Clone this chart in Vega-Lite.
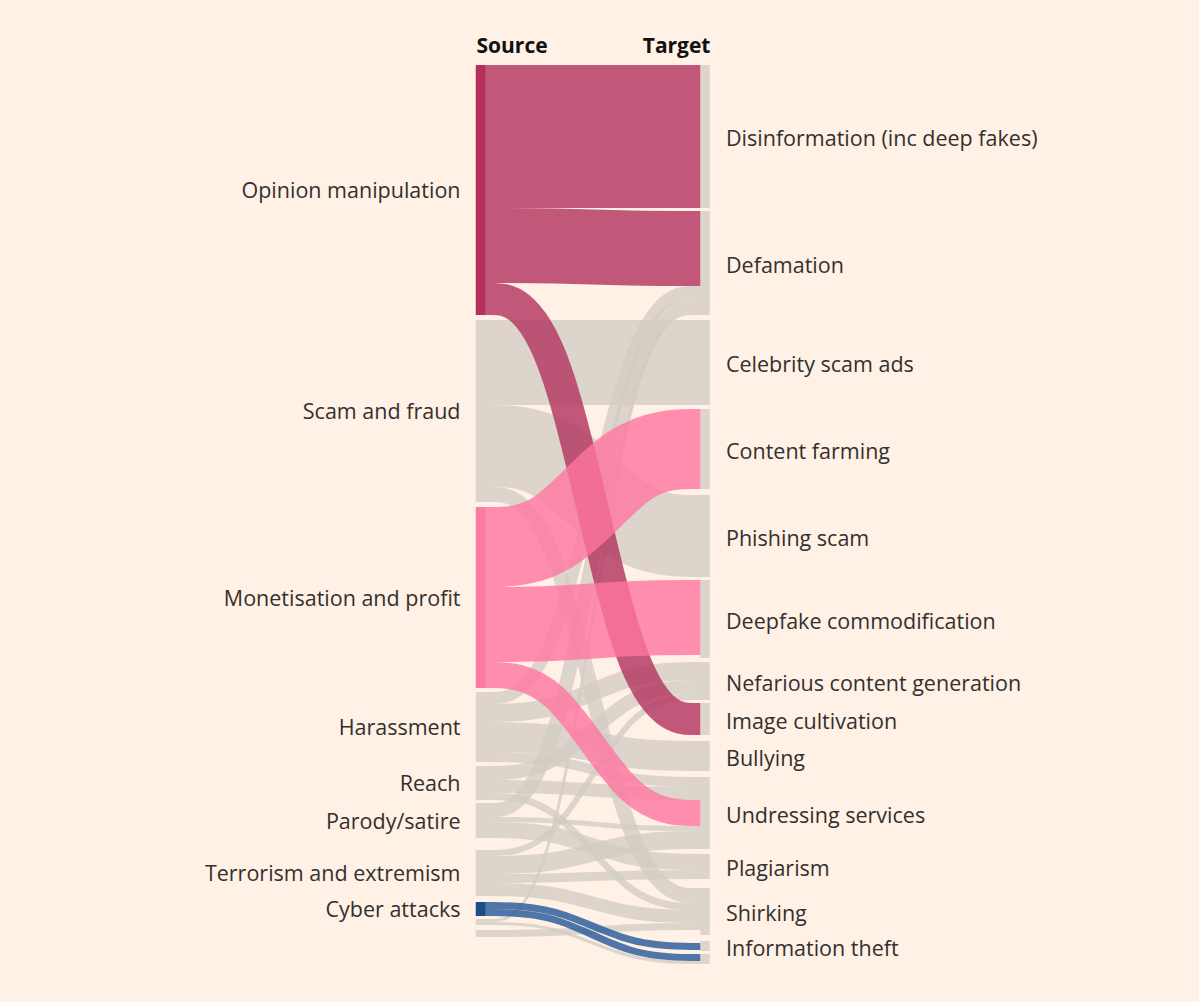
{
  "$schema": "https://vega.github.io/schema/vega-lite/v6.json",
  "autosize": {"type": "none"},
  "width": 224.5,
  "height": 920,
  "padding": {"left": 480.5, "top": 60, "right": 494, "bottom": 22},
  "background": "#fff1e5",
  "config": {"view": {"stroke": null}, "font": "Open Sans"},
  "datasets": {
    "links": [
      {"source": "Opinion manipulation", "target": "Disinformation (inc deep fakes)", "value": 143, "step": [0,1,2,3], "y": [71.5,71.5,71.5,71.5]},
      {"source": "Opinion manipulation", "target": "Defamation", "value": 75, "step": [0,1,2,3], "y": [180.5,180.5,183.5,183.5]},
      {"source": "Opinion manipulation", "target": "Image cultivation", "value": 32, "step": [0,1,2,3], "y": [234,234,654,654]},
      {"source": "Scam and fraud", "target": "Celebrity scam ads", "value": 85, "step": [0,1,2,3], "y": [297.5,297.5,297.5,297.5]},
      {"source": "Scam and fraud", "target": "Phishing scam", "value": 82, "step": [0,1,2,3], "y": [381,381,471,471]},
      {"source": "Scam and fraud", "target": "Shirking", "value": 15, "step": [0,1,2,3], "y": [429.5,429.5,830.5,830.5]},
      {"source": "Monetisation and profit", "target": "Content farming", "value": 80, "step": [0,1,2,3], "y": [482,482,384,384]},
      {"source": "Monetisation and profit", "target": "Deepfake commodification", "value": 75, "step": [0,1,2,3], "y": [559.5,559.5,552.5,552.5]},
      {"source": "Monetisation and profit", "target": "Undressing services", "value": 26, "step": [0,1,2,3], "y": [610,610,748,748]},
      {"source": "Harassment", "target": "Defamation", "value": 12, "step": [0,1,2,3], "y": [633,633,227,227]},
      {"source": "Harassment", "target": "Nefarious content generation", "value": 18, "step": [0,1,2,3], "y": [648,648,606,606]},
      {"source": "Harassment", "target": "Bullying", "value": 30, "step": [0,1,2,3], "y": [672,672,691,691]},
      {"source": "Harassment", "target": "Undressing services", "value": 10, "step": [0,1,2,3], "y": [692,692,717,717]},
      {"source": "Reach", "target": "Nefarious content generation", "value": 14, "step": [0,1,2,3], "y": [708,708,622,622]},
      {"source": "Reach", "target": "Undressing services", "value": 13, "step": [0,1,2,3], "y": [721.5,721.5,728.5,728.5]},
      {"source": "Reach", "target": "Shirking", "value": 7, "step": [0,1,2,3], "y": [731.5,731.5,841.5,841.5]},
      {"source": "Parody/satire", "target": "Defamation", "value": 14, "step": [0,1,2,3], "y": [745,745,240,240]},
      {"source": "Parody/satire", "target": "Undressing services", "value": 5, "step": [0,1,2,3], "y": [754.5,754.5,763.5,763.5]},
      {"source": "Parody/satire", "target": "Plagiarism", "value": 16, "step": [0,1,2,3], "y": [765,765,797,797]},
      {"source": "Terrorism and extremism", "target": "Nefarious content generation", "value": 6, "step": [0,1,2,3], "y": [788,788,632,632]},
      {"source": "Terrorism and extremism", "target": "Undressing services", "value": 18, "step": [0,1,2,3], "y": [800,800,775,775]},
      {"source": "Terrorism and extremism", "target": "Plagiarism", "value": 9, "step": [0,1,2,3], "y": [813.5,813.5,809.5,809.5]},
      {"source": "Terrorism and extremism", "target": "Shirking", "value": 13, "step": [0,1,2,3], "y": [824.5,824.5,851.5,851.5]},
      {"source": "Cyber attacks", "target": "Information theft", "value": 7, "step": [0,1,2,3], "y": [840.5,840.5,881.5,881.5]},
      {"source": "Cyber attacks", "target": "minor target", "value": 7, "step": [0,1,2,3], "y": [847.5,847.5,892.5,892.5]},
      {"source": "minor source 1", "target": "Defamation", "value": 3, "step": [0,1,2,3], "y": [855.5,855.5,248.5,248.5]},
      {"source": "minor source 1", "target": "minor target", "value": 3, "step": [0,1,2,3], "y": [858.5,858.5,897.5,897.5]},
      {"source": "minor source 2", "target": "Shirking", "value": 7, "step": [0,1,2,3], "y": [868.5,868.5,861.5,861.5]}
    ],
    "nodes": [
      {"name": "Opinion manipulation", "label": "Opinion manipulation", "stage": 0, "y0": 0, "y1": 250},
      {"name": "Scam and fraud", "label": "Scam and fraud", "stage": 0, "y0": 255, "y1": 437},
      {"name": "Monetisation and profit", "label": "Monetisation and profit", "stage": 0, "y0": 442, "y1": 623},
      {"name": "Harassment", "label": "Harassment", "stage": 0, "y0": 627, "y1": 697},
      {"name": "Reach", "label": "Reach", "stage": 0, "y0": 701, "y1": 735},
      {"name": "Parody/satire", "label": "Parody/satire", "stage": 0, "y0": 738, "y1": 773},
      {"name": "Terrorism and extremism", "label": "Terrorism and extremism", "stage": 0, "y0": 785, "y1": 831},
      {"name": "Cyber attacks", "label": "Cyber attacks", "stage": 0, "y0": 837, "y1": 851},
      {"name": "minor source 1", "label": "", "stage": 0, "y0": 854, "y1": 860},
      {"name": "minor source 2", "label": "", "stage": 0, "y0": 865, "y1": 872},
      {"name": "Disinformation (inc deep fakes)", "label": "Disinformation (inc deep fakes)", "stage": 3, "y0": 0, "y1": 143},
      {"name": "Defamation", "label": "Defamation", "stage": 3, "y0": 146, "y1": 250},
      {"name": "Celebrity scam ads", "label": "Celebrity scam ads", "stage": 3, "y0": 255, "y1": 340},
      {"name": "Content farming", "label": "Content farming", "stage": 3, "y0": 344, "y1": 424},
      {"name": "Phishing scam", "label": "Phishing scam", "stage": 3, "y0": 430, "y1": 512},
      {"name": "Deepfake commodification", "label": "Deepfake commodification", "stage": 3, "y0": 515, "y1": 593},
      {"name": "Nefarious content generation", "label": "Nefarious content generation", "stage": 3, "y0": 597, "y1": 635},
      {"name": "Image cultivation", "label": "Image cultivation", "stage": 3, "y0": 638, "y1": 670},
      {"name": "Bullying", "label": "Bullying", "stage": 3, "y0": 676, "y1": 706},
      {"name": "Undressing services", "label": "Undressing services", "stage": 3, "y0": 712, "y1": 784},
      {"name": "Plagiarism", "label": "Plagiarism", "stage": 3, "y0": 789, "y1": 814},
      {"name": "Shirking", "label": "Shirking", "stage": 3, "y0": 823, "y1": 870},
      {"name": "Information theft", "label": "Information theft", "stage": 3, "y0": 876, "y1": 886},
      {"name": "minor target", "label": "", "stage": 3, "y0": 889, "y1": 899}
    ]
  },
  "layer": [
    {
      "data": {"name": "links"},
      "transform": [
        {"flatten": ["step", "y"]},
        {"filter": "datum.source != 'Opinion manipulation' && datum.source != 'Monetisation and profit' && datum.source != 'Cyber attacks'"}
      ],
      "mark": {"type": "line", "interpolate": "basis", "strokeCap": "butt", "color": "#d2cbc3", "opacity": 0.75},
      "encoding": {
        "x": {"field": "step", "type": "quantitative", "scale": {"domain": [0, 3], "nice": false, "zero": false},
              "axis": {"orient": "top", "values": [0, 3], "labelExpr": "datum.value == 0 ? 'Source' : 'Target'", "domain": false, "ticks": false, "grid": false, "title": null, "labelFontSize": 21, "labelFontWeight": "bold", "labelColor": "#111111", "labelPadding": 4, "labelFlush": true, "labelOffset": {"condition": {"test": "datum.value == 0", "value": -4.5}, "value": 5}}},
        "y": {"field": "y", "type": "quantitative", "scale": {"domain": [-5, 915], "reverse": true, "nice": false, "zero": false}, "axis": null},
        "size": {"field": "value", "type": "quantitative", "scale": {"type": "linear", "domain": [0, 920], "range": [0, 920], "zero": true}, "legend": null},
        "detail": [{"field": "source"}, {"field": "target"}]
      }
    },
    {
      "data": {"name": "links"},
      "transform": [
        {"flatten": ["step", "y"]},
        {"filter": "datum.source == 'Opinion manipulation' || datum.source == 'Monetisation and profit' || datum.source == 'Cyber attacks'"}
      ],
      "mark": {"type": "line", "interpolate": "basis", "strokeCap": "butt", "opacity": 0.8},
      "encoding": {
        "x": {"field": "step", "type": "quantitative"},
        "y": {"field": "y", "type": "quantitative"},
        "size": {"field": "value", "type": "quantitative", "legend": null},
        "detail": [{"field": "source"}, {"field": "target"}],
        "color": {"condition": [
          {"test": "datum.source == 'Opinion manipulation'", "value": "#b3325e"},
          {"test": "datum.source == 'Monetisation and profit'", "value": "#ff76a0"}
        ], "value": "#24589a"}
      }
    },
    {
      "data": {"name": "nodes"},
      "mark": {"type": "rule", "strokeWidth": 9.5, "strokeCap": "butt"},
      "encoding": {
        "x": {"field": "stage", "type": "quantitative"},
        "y": {"field": "y0", "type": "quantitative"},
        "y2": {"field": "y1"},
        "color": {"condition": [
          {"test": "datum.name == 'Opinion manipulation'", "value": "#b3305d"},
          {"test": "datum.name == 'Monetisation and profit'", "value": "#ff7aa2"},
          {"test": "datum.name == 'Cyber attacks'", "value": "#1d4b86"}
        ], "value": "#ddd5cc"}
      }
    },
    {
      "data": {"name": "nodes"},
      "transform": [
        {"filter": "datum.stage == 0"},
        {"fold": ["y0", "y1"], "as": ["edge", "ypos"]},
        {"aggregate": [{"op": "mean", "field": "ypos", "as": "ymid"}], "groupby": ["name", "label", "stage"]}
      ],
      "mark": {"type": "text", "align": "right", "baseline": "middle", "dx": -20, "dy": 2, "fontSize": 21.5, "color": "#33302e"},
      "encoding": {
        "x": {"field": "stage", "type": "quantitative"},
        "y": {"field": "ymid", "type": "quantitative"},
        "text": {"field": "label"}
      }
    },
    {
      "data": {"name": "nodes"},
      "transform": [
        {"filter": "datum.stage == 3"},
        {"fold": ["y0", "y1"], "as": ["edge", "ypos"]},
        {"aggregate": [{"op": "mean", "field": "ypos", "as": "ymid"}], "groupby": ["name", "label", "stage"]}
      ],
      "mark": {"type": "text", "align": "left", "baseline": "middle", "dx": 21, "dy": 3.5, "fontSize": 21.5, "color": "#33302e"},
      "encoding": {
        "x": {"field": "stage", "type": "quantitative"},
        "y": {"field": "ymid", "type": "quantitative"},
        "text": {"field": "label"}
      }
    }
  ]
}
